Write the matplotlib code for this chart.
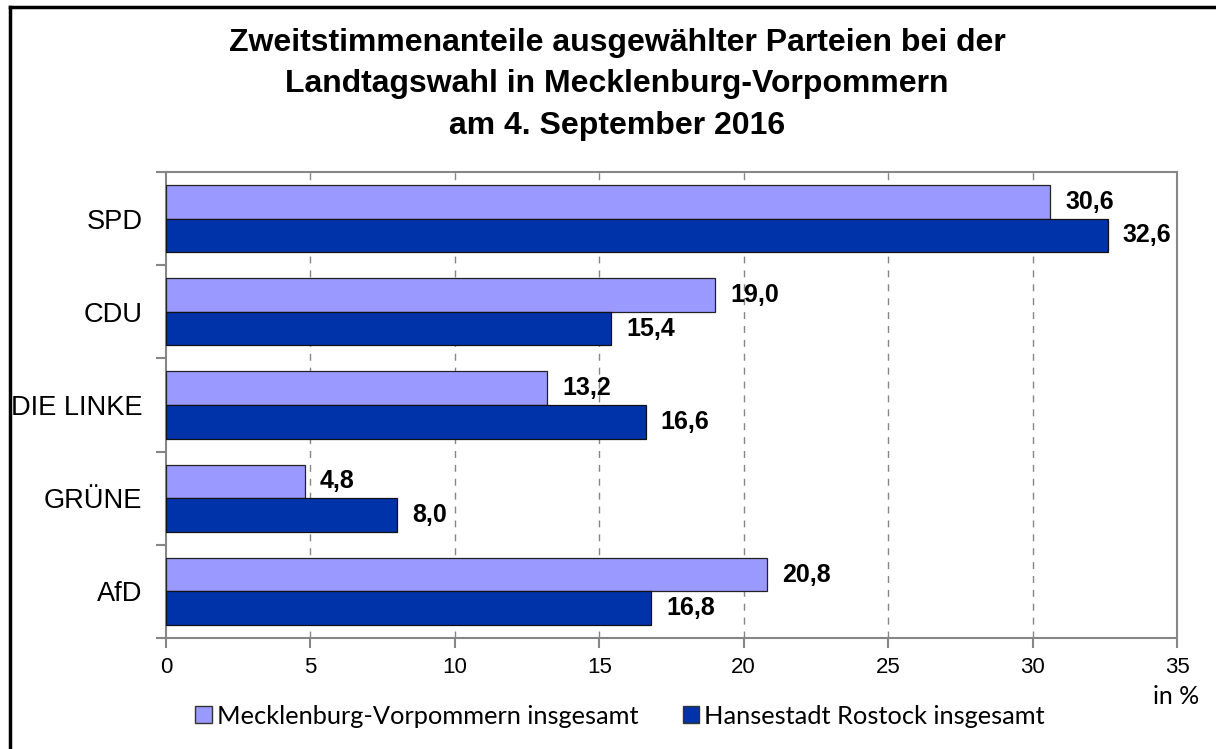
import matplotlib
matplotlib.use("Agg")
import matplotlib.pyplot as plt
import numpy as np
from matplotlib.lines import Line2D
from matplotlib.patches import Patch

categories = ["SPD", "CDU", "DIE LINKE", "GRÜNE", "AfD"]
mv_values = [30.6, 19.0, 13.2, 4.8, 20.8]
hro_values = [32.6, 15.4, 16.6, 8.0, 16.8]
series_names = ["Mecklenburg-Vorpommern insgesamt", "Hansestadt Rostock insgesamt"]
x_ticks = [0, 5, 10, 15, 20, 25, 30, 35]

light = "#9999FF"
dark = "#0033AA"
gray = "#868686"

fig = plt.figure(figsize=(12.16, 7.49), dpi=100)
ax = fig.add_axes([166/1216, 1-638/749, (1177-166)/1216, (638-172)/749])

y = np.arange(len(categories))
h = 0.36
ax.barh(y - h/2, mv_values, height=h, color=light, edgecolor="#222222", linewidth=0.9, zorder=3)
ax.barh(y + h/2, hro_values, height=h, color=dark, edgecolor="#111111", linewidth=0.9, zorder=3)

def fmt(v):
    return f"{v:.1f}".replace(".", ",")

for yi, v in zip(y, mv_values):
    ax.annotate(fmt(v), (v, yi - h/2), xytext=(11, 0), textcoords="offset points",
                ha="left", va="center", fontsize=18, fontweight="bold",
                family="Liberation Sans")
for yi, v in zip(y, hro_values):
    ax.annotate(fmt(v), (v, yi + h/2), xytext=(11, 0), textcoords="offset points",
                ha="left", va="center", fontsize=18, fontweight="bold",
                family="Liberation Sans")

ax.set_xlim(0, 35)
ax.set_ylim(len(categories) - 0.5, -0.5)
ax.set_xticks(x_ticks)
ax.set_xticklabels([str(t) for t in x_ticks], family="Liberation Sans", fontsize=16)
ax.set_yticks(y)
ax.set_yticklabels(categories, family="Liberation Sans", fontsize=19.6)
ax.set_yticks(np.arange(-0.5, len(categories)), minor=True)
ax.tick_params(axis="y", which="major", length=0, pad=17)
ax.tick_params(axis="y", which="minor", length=7, color=gray, width=1.5, direction="out")
ax.tick_params(axis="x", which="major", length=7, color=gray, width=1.5, direction="out", pad=7)

for x in x_ticks[1:-1]:
    ax.axvline(x, color=gray, linestyle=(0, (5, 5)), linewidth=1, zorder=1)

for s in ax.spines.values():
    s.set_color(gray)
    s.set_linewidth(1.5)

fig.text(1176/1216, 1-697/749, "in %", ha="center", va="center",
         fontsize=18, family="Lato")

fig.text(617/1216, 1-28/749, "Zweitstimmenanteile ausgewählter Parteien bei der\nLandtagswahl in Mecklenburg-Vorpommern\nam 4. September 2016",
         ha="center", va="top", fontsize=23, fontweight="bold", family="Liberation Sans",
         linespacing=1.49)

handles = [Patch(facecolor=light, edgecolor="#333333", linewidth=1),
           Patch(facecolor=dark, edgecolor="#333333", linewidth=1)]
leg = fig.legend(handles, series_names, loc="center", bbox_to_anchor=(620/1216, 1-716/749),
                 ncol=2, frameon=False, handlelength=0.65, handleheight=0.65,
                 handletextpad=0.2, columnspacing=1.75, prop={"family": "Lato", "size": 18.3})

fig.add_artist(Line2D([10/1216, 10/1216], [0, 1-7/749], color="black", linewidth=2.5, transform=fig.transFigure))
fig.add_artist(Line2D([10/1216, 1], [1-7/749, 1-7/749], color="black", linewidth=2.5, transform=fig.transFigure))

fig.savefig("out.png", dpi=100)
